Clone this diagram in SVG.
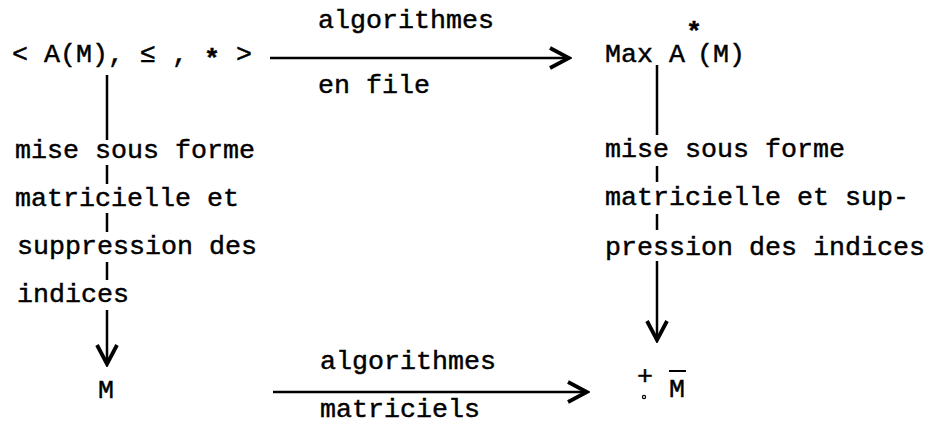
<svg xmlns="http://www.w3.org/2000/svg" width="931" height="435" viewBox="0 0 931 435">
<style>
text{font-family:"Liberation Mono","DejaVu Sans Mono",monospace;font-size:26.67px;fill:#000;stroke:#000;stroke-width:0.45}
.ln{fill:none;stroke:#000;stroke-width:2.5}
</style>
<defs>
<marker id="chev" markerUnits="userSpaceOnUse" viewBox="-24 -13 27 26" refX="0" refY="0" markerWidth="27" markerHeight="26" orient="auto">
<path d="M-19,-10 L0,0 L-19,10" fill="none" stroke="#000" stroke-width="3.8" stroke-linejoin="miter"/>
</marker>
</defs>
<rect width="931" height="435" fill="#fff"/>
<g id="n-AM">
<text x="12" y="62">&lt; A(M), ≤ , <tspan font-weight="bold" dy="5">*</tspan><tspan dy="-5"> &gt;</tspan></text>
</g>
<g id="n-MaxA">
<text x="605" y="62">Max A</text>
<text x="686" y="40" font-size="18" font-weight="bold">*</text>
<text x="697" y="62">(M)</text>
</g>
<g id="n-M">
<text x="106" y="398" text-anchor="middle">M</text>
</g>
<g id="n-Mbar">
<text x="645" y="384" font-size="24" text-anchor="middle">+</text>
<circle cx="644" cy="397" r="1.6" fill="none" stroke="#000" stroke-width="1.2"/>
<text x="677" y="397" text-anchor="middle">M</text>
<line x1="669" y1="371" x2="686" y2="371" stroke="#000" stroke-width="2"/>
</g>
<g id="connectors">
<path class="ln" d="M270,58 H569" marker-end="url(#chev)"/>
<path class="ln" d="M273,392 H587" marker-end="url(#chev)"/>
<path class="ln" d="M107,75 V140 M107,165 V184 M107,213 V232 M107,262 V280 M107,310 V364" marker-end="url(#chev)"/>
<path class="ln" d="M657,65 V135 M657,166 V182 M657,214 V230 M657,261 V340" marker-end="url(#chev)"/>
</g>
<g id="labels">
<text x="318" y="28">algorithmes</text>
<text x="318" y="93">en file</text>
<text x="320" y="369">algorithmes</text>
<text x="320" y="417">matriciels</text>
<text x="15" y="158">mise sous forme</text>
<text x="15" y="206">matricielle et</text>
<text x="17" y="254">suppression des</text>
<text x="17" y="302">indices</text>
<text x="605" y="157">mise sous forme</text>
<text x="605" y="205">matricielle et sup-</text>
<text x="605" y="255">pression des indices</text>
</g>
</svg>
